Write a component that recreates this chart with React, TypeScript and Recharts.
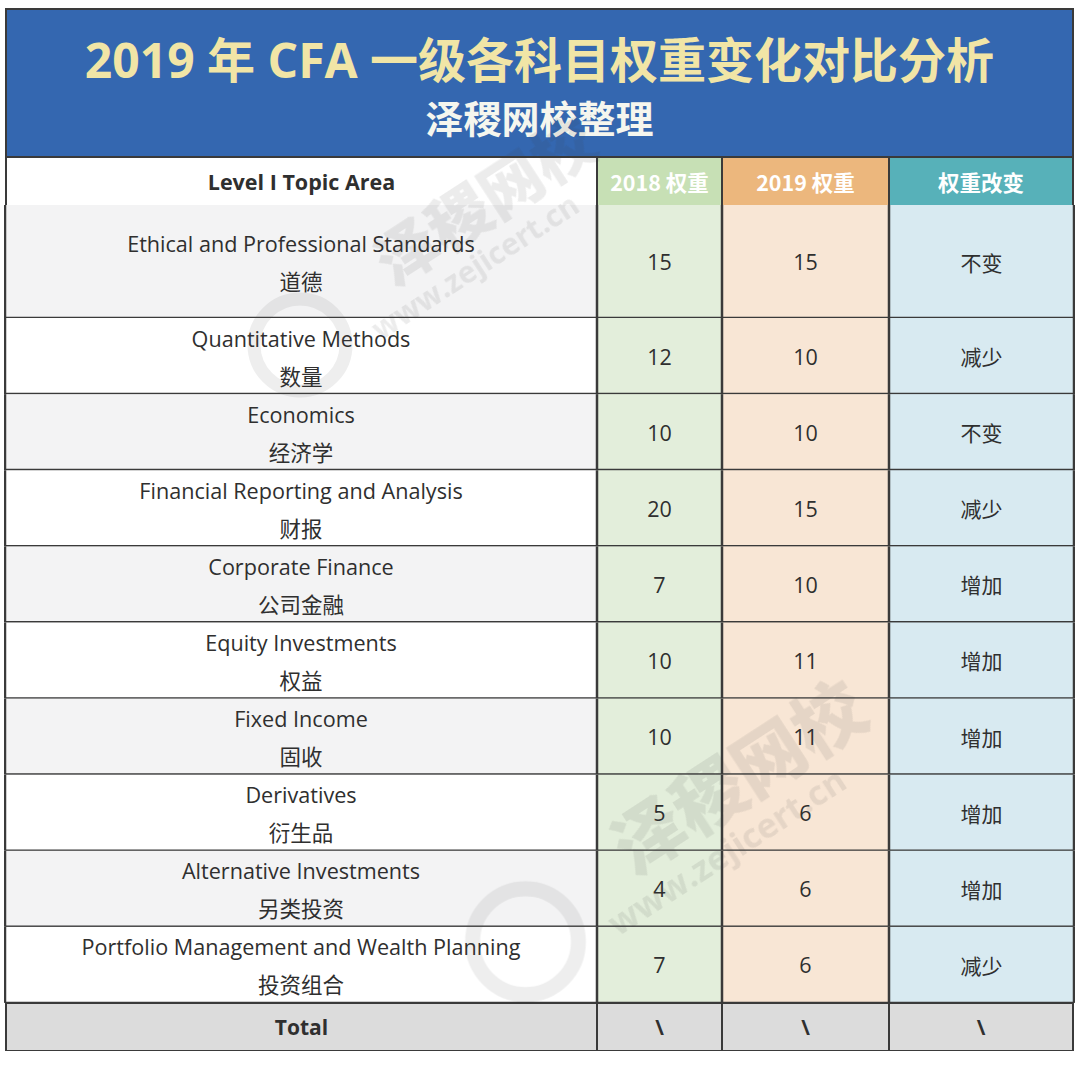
import React from 'react';
import { BarChart, Bar, XAxis, YAxis } from 'recharts';

// 科目（英文 / 中文）
const topicsEn = [
    'Ethical and Professional Standards',
    'Quantitative Methods',
    'Economics',
    'Financial Reporting and Analysis',
    'Corporate Finance',
    'Equity Investments',
    'Fixed Income',
    'Derivatives',
    'Alternative Investments',
    'Portfolio Management and Wealth Planning',
];
const topicsZh = ['道德', '数量', '经济学', '财报', '公司金融', '权益', '固收', '衍生品', '另类投资', '投资组合'];
const weights2018 = [15, 12, 10, 20, 7, 10, 10, 5, 4, 7];
const weights2019 = [15, 10, 10, 15, 10, 11, 11, 6, 6, 6];
const changes = ['不变', '减少', '不变', '减少', '增加', '增加', '增加', '增加', '增加', '减少'];
const headers = ['Level I Topic Area', '2018 权重', '2019 权重', '权重改变'];
const totalRow = ['Total', '\\', '\\', '\\'];

const FONT = '"Open Sans", "Noto Sans CJK SC", sans-serif';
const CJK = '"Noto Sans CJK SC", "Open Sans", sans-serif';
const LINE = '#3a3a3a';
const TEXT = '#2f2f2f';

// 列の左端（ページ座標）
const COL_X = [5, 597, 722, 889, 1074];
const CHART_LEFT = 4;
const CHART_W = 1071;

const COLORS = {
    banner: '#3467b0',
    title: '#f1e5a6',
    sub: '#f5f6ee',
    head: ['#ffffff', '#c7e0b5', '#ecb77d', '#57b1b9'],
    cell2018: '#e3eedb',
    cell2019: '#f8e6d5',
    cellChange: '#d8eaf1',
    topicOdd: '#f3f3f4',
    topicEven: '#ffffff',
    total: '#dcdcdc',
};

const rows = topicsEn.map((en, i) => ({
    en,
    zh: topicsZh[i],
    w2018: weights2018[i],
    w2019: weights2019[i],
    change: changes[i],
    idx: i,
}));

type Row = typeof rows[number];

function RowShape(props: any) {
    const { y, height } = props;
    const d: Row = props.payload ?? props;
    const cx = COL_X.map(v => v - CHART_LEFT);
    const mid = (a: number, b: number) => (cx[a] + cx[b]) / 2;
    const cy = y + height / 2;
    return (
        <g>
            <rect x={cx[0]} y={y} width={cx[1] - cx[0]} height={height} fill={d.idx % 2 === 0 ? COLORS.topicOdd : COLORS.topicEven} />
            <rect x={cx[1]} y={y} width={cx[2] - cx[1]} height={height} fill={COLORS.cell2018} />
            <rect x={cx[2]} y={y} width={cx[3] - cx[2]} height={height} fill={COLORS.cell2019} />
            <rect x={cx[3]} y={y} width={cx[4] - cx[3]} height={height} fill={COLORS.cellChange} />
            <text x={mid(0, 1)} y={cy - 18} textAnchor="middle" dominantBaseline="central" fontFamily={FONT} fontSize={21.6} fill={TEXT}>{d.en}</text>
            <text x={mid(0, 1)} y={cy + 19} textAnchor="middle" dominantBaseline="central" fontFamily={CJK} fontSize={21.5} fill={TEXT}>{d.zh}</text>
            <text x={mid(1, 2)} y={cy} textAnchor="middle" dominantBaseline="central" fontFamily={FONT} fontSize={21.5} fill={TEXT}>{d.w2018}</text>
            <text x={mid(2, 3)} y={cy} textAnchor="middle" dominantBaseline="central" fontFamily={FONT} fontSize={21.5} fill={TEXT}>{d.w2019}</text>
            <text x={mid(3, 4)} y={cy} textAnchor="middle" dominantBaseline="central" fontFamily={CJK} fontSize={21} fill={TEXT}>{d.change}</text>
            <line x1={cx[0]} x2={cx[4]} y1={y + height} y2={y + height} stroke={LINE} strokeWidth={2.5} />
            {cx.map((x, i) => (
                <line key={i} x1={x} x2={x} y1={y} y2={y + height} stroke={LINE} strokeWidth={2.5} />
            ))}
        </g>
    );
}

function RowsChart({ data, top, height }: { data: Row[]; top: number; height: number }) {
    return (
        <div style={{ position: 'absolute', left: CHART_LEFT, top, width: CHART_W, height }}>
            <BarChart width={CHART_W} height={height} data={data} layout="vertical" margin={{ top: 0, right: 0, bottom: 0, left: 0 }} barCategoryGap={0}>
                <XAxis type="number" hide domain={[0, 20]} />
                <YAxis type="category" dataKey="en" hide />
                <Bar dataKey="w2019" shape={RowShape} isAnimationActive={false} />
            </BarChart>
        </div>
    );
}

function StripRow({ top, height, cells, bgs, colors, font, size }: { top: number; height: number; cells: string[]; bgs: string[]; colors: string[]; font: string[]; size: number }) {
    return (
        <>
            {cells.map((c, i) => (
                <div
                    key={i}
                    style={{
                        position: 'absolute',
                        left: COL_X[i],
                        top,
                        width: COL_X[i + 1] - COL_X[i],
                        height,
                        background: bgs[i],
                        boxSizing: 'border-box',
                        borderLeft: i === 0 ? `2.5px solid ${LINE}` : `1.25px solid ${LINE}`,
                        borderRight: i === cells.length - 1 ? `2.5px solid ${LINE}` : `1.25px solid ${LINE}`,
                        borderTop: `1.25px solid ${LINE}`,
                        borderBottom: `1.25px solid ${LINE}`,
                        display: 'flex',
                        alignItems: 'center',
                        justifyContent: 'center',
                        fontFamily: font[i],
                        fontWeight: 700,
                        fontSize: size,
                        color: colors[i],
                    }}
                >
                    {c}
                </div>
            ))}
        </>
    );
}

function Watermark({ x, y, scale }: { x: number; y: number; scale: number }) {
    return (
        <g transform={`translate(${x},${y}) scale(${scale})`} opacity={0.1}>
            <circle cx={-30} cy={45} r={46} fill="none" stroke="#555" strokeWidth={13} />
            <g transform="rotate(-33)">
                <text x={60} y={25} fontFamily={CJK} fontWeight={900} fontSize={62} fill="#444">泽稷网校</text>
                <text x={20} y={62} fontFamily={FONT} fontWeight={700} fontSize={30} fill="#444">www.zejicert.cn</text>
            </g>
        </g>
    );
}

export default function App() {
    return (
        <div style={{ position: 'absolute', left: 0, top: 0, width: 1080, height: 1073, background: '#ffffff', overflow: 'hidden' }}>
            {/* タイトル帯 */}
            <div
                style={{
                    position: 'absolute',
                    left: 5,
                    top: 8,
                    width: 1069,
                    height: 150,
                    boxSizing: 'border-box',
                    background: COLORS.banner,
                    border: `2px solid ${LINE}`,
                    textAlign: 'center',
                    fontFamily: CJK,
                    fontWeight: 700,
                }}
            >
                <div style={{ position: 'absolute', left: 0, right: 0, top: 15, fontSize: 48, lineHeight: '64px', color: COLORS.title, fontFamily: FONT }}>
                    2019 <span style={{ fontFamily: CJK }}>年</span> CFA <span style={{ fontFamily: CJK }}>一级各科目权重变化对比分析</span>
                </div>
                <div style={{ position: 'absolute', left: 0, right: 0, top: 82, fontSize: 38, lineHeight: '50px', color: COLORS.sub }}>泽稷网校整理</div>
            </div>

            {/* 見出し行 */}
            <StripRow
                top={157}
                height={49}
                cells={headers}
                bgs={COLORS.head}
                colors={[TEXT, '#ffffff', '#ffffff', '#ffffff']}
                font={[FONT, CJK, CJK, CJK]}
                size={21.5}
            />

            {/* 本体 */}
            <RowsChart data={rows.slice(0, 1)} top={205} height={113} />
            <RowsChart data={rows.slice(1)} top={318} height={685} />

            {/* 合計行 */}
            <StripRow
                top={1003}
                height={48}
                cells={totalRow}
                bgs={[COLORS.total, COLORS.total, COLORS.total, COLORS.total]}
                colors={[TEXT, TEXT, TEXT, TEXT]}
                font={[FONT, FONT, FONT, FONT]}
                size={21}
            />

            {/* 透かし */}
            <svg width={1080} height={1073} style={{ position: 'absolute', left: 0, top: 0, pointerEvents: 'none' }}>
                <Watermark x={330} y={300} scale={1} />
                <Watermark x={560} y={890} scale={1.15} />
            </svg>
        </div>
    );
}
